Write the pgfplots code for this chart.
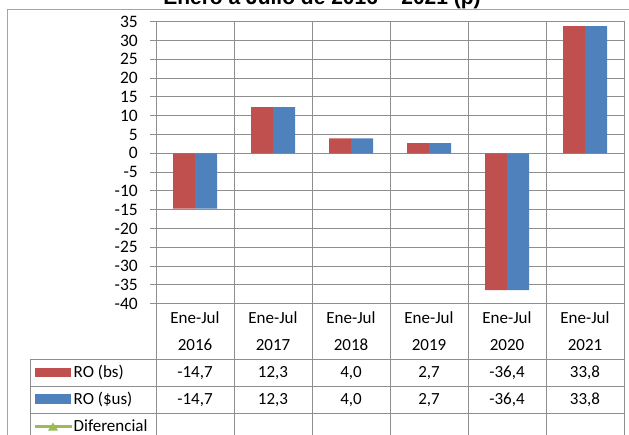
\documentclass[border=0pt]{standalone}
\usepackage{fontspec}
\setmainfont{Carlito}
\newfontfamily\titlefont{Liberation Sans}
\usepackage{pgfplots}
\pgfplotsset{compat=1.18}
\definecolor{robs}{HTML}{C0504D}
\definecolor{rous}{HTML}{4F81BD}
\definecolor{difgreen}{HTML}{9BBB59}
\definecolor{gridgray}{HTML}{8E8E8E}

\begin{document}
\begin{tikzpicture}[x=1pt,y=1pt,font=\fontsize{17}{20}\selectfont]
\useasboundingbox (0,0) rectangle (629,434);
\clip (0,0) rectangle (629,434);
\begin{axis}[
  at={(156pt,130.3pt)}, anchor=south west,
  width=468pt, height=282pt, scale only axis,
  ybar=0pt, bar width=22pt,
  xmin=-0.5, xmax=5.5, ymin=-40, ymax=35,
  xtick={-0.5,0.5,1.5,2.5,3.5,4.5,5.5}, xticklabels={},
  ytick={-40,-35,...,35},
  yticklabels={-40,-35,-30,-25,-20,-15,-10,-5,0,5,10,15,20,25,30,35},
  xmajorgrids, ymajorgrids,
  grid style={gridgray, line width=1pt},
  axis line style={gridgray, line width=1pt},
  xtick style={draw=none},
  ytick style={gridgray, line width=1pt},
  ytick pos=left, tick align=outside, major tick length=6pt,
  yticklabel style={font=\fontsize{17.5}{20}\selectfont, inner sep=0pt, xshift=-12pt},
]
\addplot[fill=robs, draw=none] coordinates {(0,-14.7) (1,12.3) (2,4.0) (3,2.7) (4,-36.4) (5,33.8)};
\addplot[fill=rous, draw=none] coordinates {(0,-14.7) (1,12.3) (2,4.0) (3,2.7) (4,-36.4) (5,33.8)};
\end{axis}
% outer chart frame
\draw[gridgray!80, line width=1pt] (7.7,-5) -- (7.7,424) -- (640,424);
% title (cut at the top, as in the reference)
\node[anchor=base, inner sep=0pt] at (322,429.5) {\titlefont\bfseries\fontsize{21}{24}\selectfont Enero a Julio de 2016 – 2021 (p)};
% data table
\draw[gridgray, line width=1pt] (30,75) -- (624,75) (30,48) -- (624,48) (30,21) -- (624,21) (30,75) -- (30,-5);
\foreach \k in {0,...,6} \draw[gridgray, line width=1pt] ({156+78*\k},130.3) -- ({156+78*\k},-5);
\foreach \k/\yr/\v in {0/2016/-14{,}7, 1/2017/12{,}3, 2/2018/4{,}0, 3/2019/2{,}7, 4/2020/-36{,}4, 5/2021/33{,}8} {
  \node[anchor=base, inner sep=0pt] at ({195+78*\k},110.7) {Ene-Jul};
  \node[anchor=base, inner sep=0pt] at ({195+78*\k},84) {\yr};
  \node[anchor=base, inner sep=0pt] at ({195+78*\k},57) {\v};
  \node[anchor=base, inner sep=0pt] at ({195+78*\k},29.5) {\v};
}
% legend keys
\fill[robs] (35,57) rectangle (71,66.5);
\node[anchor=base west, inner sep=0pt] at (73.5,57) {RO (bs)};
\fill[rous] (35,30) rectangle (71,39.7);
\node[anchor=base west, inner sep=0pt] at (73.5,29.5) {RO (\$us)};
\draw[difgreen, line width=3pt] (35,7.3) -- (72,7.3);
\fill[difgreen] (48,3.5) -- (58,3.5) -- (53,11.5) -- cycle;
\node[anchor=base west, inner sep=0pt] at (73.5,2.3) {Diferencial};
\end{tikzpicture}
\end{document}
